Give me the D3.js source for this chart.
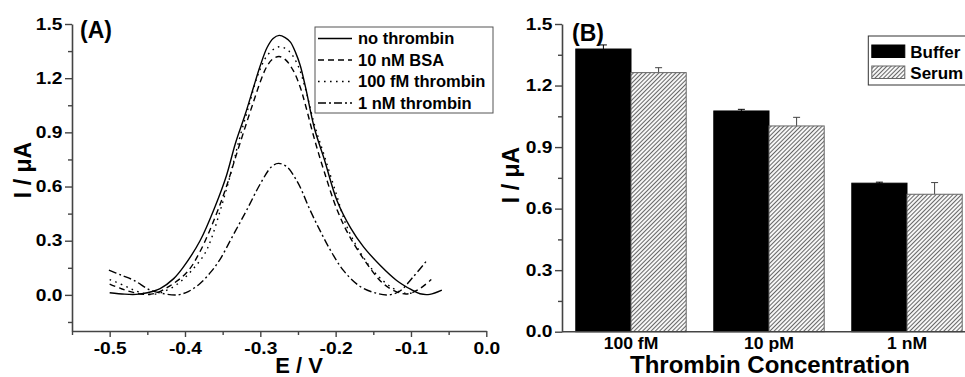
<!DOCTYPE html>
<html>
<head>
<meta charset="utf-8">
<script src="https://cdn.jsdelivr.net/npm/d3@7"></script>
<style>
  body { margin: 0; background: #fff; }
  svg { display: block; font-family: "Liberation Sans", Arial, sans-serif; font-weight: bold; }
</style>
</head>
<body>
<div id="chart"></div>
<script>
// ---- Panel A: voltammograms, [E (V), I (uA)] ----
const noThrombin = [
  [-0.500, 0.012], [-0.480, 0.004], [-0.465, 0.003], [-0.450, 0.012], [-0.433, 0.035],
  [-0.415, 0.09], [-0.402, 0.155], [-0.380, 0.30], [-0.360, 0.49], [-0.345, 0.66],
  [-0.333, 0.84], [-0.320, 1.00], [-0.309, 1.15], [-0.300, 1.27], [-0.291, 1.37],
  [-0.283, 1.42], [-0.275, 1.437], [-0.267, 1.425], [-0.260, 1.40], [-0.253, 1.34],
  [-0.247, 1.27], [-0.240, 1.15], [-0.228, 0.92], [-0.215, 0.75], [-0.198, 0.52],
  [-0.180, 0.37], [-0.163, 0.266], [-0.140, 0.16], [-0.119, 0.08], [-0.100, 0.03],
  [-0.088, 0.006], [-0.075, 0.003], [-0.059, 0.026]
];
const bsa10nM = [
  [-0.500, 0.06], [-0.485, 0.035], [-0.470, 0.015], [-0.455, 0.003], [-0.440, 0.008],
  [-0.420, 0.05], [-0.397, 0.127], [-0.380, 0.24], [-0.360, 0.43], [-0.345, 0.60],
  [-0.333, 0.76], [-0.320, 0.93], [-0.309, 1.07], [-0.300, 1.18], [-0.292, 1.26],
  [-0.284, 1.305], [-0.275, 1.32], [-0.266, 1.30], [-0.256, 1.24], [-0.247, 1.15],
  [-0.240, 1.05], [-0.228, 0.86], [-0.215, 0.68], [-0.198, 0.47], [-0.181, 0.32],
  [-0.154, 0.146], [-0.137, 0.063], [-0.119, 0.017], [-0.105, 0.005], [-0.090, 0.03],
  [-0.073, 0.085]
];
const thrombin100fM = [
  [-0.500, 0.085], [-0.492, 0.072], [-0.477, 0.044], [-0.468, 0.026], [-0.455, 0.008],
  [-0.445, 0.002], [-0.430, 0.015], [-0.410, 0.06], [-0.390, 0.14], [-0.375, 0.22],
  [-0.366, 0.30], [-0.353, 0.47], [-0.340, 0.66], [-0.328, 0.86], [-0.315, 1.05],
  [-0.303, 1.22], [-0.290, 1.33], [-0.275, 1.374], [-0.262, 1.35], [-0.250, 1.27],
  [-0.240, 1.14], [-0.228, 0.94], [-0.215, 0.77], [-0.200, 0.57], [-0.185, 0.377],
  [-0.165, 0.22], [-0.145, 0.11], [-0.125, 0.04], [-0.110, 0.01], [-0.095, 0.012]
];
const thrombin1nM = [
  [-0.501, 0.137], [-0.485, 0.11], [-0.468, 0.081], [-0.446, 0.026], [-0.430, 0.008],
  [-0.410, 0.0], [-0.395, 0.02], [-0.380, 0.063], [-0.365, 0.13], [-0.353, 0.20],
  [-0.340, 0.30], [-0.329, 0.385], [-0.318, 0.47], [-0.300, 0.615], [-0.285, 0.71],
  [-0.276, 0.728], [-0.265, 0.71], [-0.250, 0.62], [-0.234, 0.47], [-0.220, 0.35],
  [-0.207, 0.248], [-0.190, 0.137], [-0.168, 0.048], [-0.145, 0.008], [-0.130, 0.0],
  [-0.115, 0.02], [-0.097, 0.10], [-0.079, 0.19]
];
const seriesNamesA = ["no thrombin", "10 nM BSA", "100 fM thrombin", "1 nM thrombin"];
const xTicksA = [-0.5, -0.4, -0.3, -0.2, -0.1, 0.0];
const xMinorA = [-0.55, -0.45, -0.35, -0.25, -0.15, -0.05];
const yTicksA = [0, 0.3, 0.6, 0.9, 1.2, 1.5];
const yMinorA = [-0.15, 0.15, 0.45, 0.75, 1.05, 1.35];

// ---- Panel B: peak currents ----
const concentrations = ["100 fM", "10 pM", "1 nM"];
const media = ["Buffer", "Serum"];
const bufferMeans = [1.378, 1.076, 0.724];
const bufferErrors = [0.02, 0.008, 0.005];
const serumMeans = [1.263, 1.003, 0.67];
const serumErrors = [0.024, 0.042, 0.057];
const yTicksB = [0, 0.3, 0.6, 0.9, 1.2, 1.5];
const yMinorB = [0.15, 0.45, 0.75, 1.05, 1.35];

const axisColor = "#444";
const stretch = 1.2; // tick labels in the figure are horizontally wide

const svg = d3.select("#chart").append("svg")
  .attr("width", 965).attr("height", 377);

// hatch for serum bars
const defs = svg.append("defs");
const hatch = defs.append("pattern")
  .attr("id", "hatch")
  .attr("patternUnits", "userSpaceOnUse")
  .attr("width", 3).attr("height", 3)
  .attr("patternTransform", "rotate(45)");
hatch.append("rect").attr("width", 3).attr("height", 3).attr("fill", "#fff");
hatch.append("line")
  .attr("x1", 1.5).attr("y1", 0).attr("x2", 1.5).attr("y2", 3)
  .attr("stroke", "#666").attr("stroke-width", 1.1);

function styleAxis(g) {
  g.select(".domain").attr("stroke", axisColor).attr("stroke-width", 1.6);
  g.selectAll(".tick line").attr("stroke", axisColor).attr("stroke-width", 1.4);
  g.selectAll(".tick text")
    .attr("fill", "#000")
    .style("font-size", "16px")
    .style("font-family", "'Liberation Sans', Arial, sans-serif")
    .style("font-weight", "bold");
}

// ================= Panel A =================
const xA = d3.scaleLinear().domain([-0.55, 0]).range([72, 486.3]);
const yA = d3.scaleLinear().domain([-0.2, 1.5]).range([331, 24]);

// minor ticks
svg.append("g").attr("transform", "translate(72,0)")
  .call(d3.axisLeft(yA).tickValues(yMinorA).tickSize(4).tickFormat(""))
  .call(g => g.select(".domain").remove())
  .call(g => g.selectAll("line").attr("stroke", axisColor).attr("stroke-width", 1.4));
svg.append("g").attr("transform", "translate(0,331)")
  .call(d3.axisBottom(xA).tickValues(xMinorA).tickSize(4).tickFormat(""))
  .call(g => g.select(".domain").remove())
  .call(g => g.selectAll("line").attr("stroke", axisColor).attr("stroke-width", 1.4));

const yAxisA = svg.append("g").attr("transform", "translate(72,0)")
  .call(d3.axisLeft(yA).tickValues(yTicksA).tickSize(7).tickSizeOuter(0)
    .tickFormat(d => d.toFixed(1)));
styleAxis(yAxisA);
yAxisA.selectAll(".tick text").attr("x", -9.5 / stretch).attr("transform", `scale(${stretch},1)`);

const xAxisA = svg.append("g").attr("transform", "translate(0,331)")
  .call(d3.axisBottom(xA).tickValues(xTicksA).tickSize(6).tickSizeOuter(0).tickPadding(6)
    .tickFormat(d => d.toFixed(1)));
styleAxis(xAxisA);
xAxisA.selectAll(".tick text")
  .attr("x", 0)
  .attr("text-anchor", "middle")
  .attr("transform", `scale(${stretch},1)`);

const seriesA = [noThrombin, bsa10nM, thrombin100fM, thrombin1nM];
const dashesA = [null, "6,4", "1.6,4.4", "8,3,2,3"];

const line = d3.line()
  .x(d => xA(d[0]))
  .y(d => yA(d[1]))
  .curve(d3.curveCatmullRom.alpha(0.5));

svg.append("g").selectAll("path")
  .data(seriesA)
  .join("path")
  .attr("d", line)
  .attr("fill", "none")
  .attr("stroke", "#000")
  .attr("stroke-width", 1.4)
  .attr("stroke-dasharray", (d, i) => dashesA[i]);

// legend A
const legA = svg.append("g").attr("transform", "translate(315,27)");
legA.append("rect")
  .attr("width", 178).attr("height", 86)
  .attr("fill", "#fff").attr("stroke", "#555").attr("stroke-width", 1);
seriesNamesA.forEach((name, i) => {
  const yy = 11.5 + i * 21.5;
  legA.append("line")
    .attr("x1", 3).attr("x2", 37).attr("y1", yy).attr("y2", yy)
    .attr("stroke", "#000").attr("stroke-width", 1.4)
    .attr("stroke-dasharray", dashesA[i]);
  legA.append("text")
    .attr("x", 43).attr("y", yy + 5.5)
    .style("font-size", "16.5px")
    .text(name);
});

svg.append("text").attr("x", 80).attr("y", 38)
  .style("font-size", "23px").text("(A)");

svg.append("text")
  .attr("transform", "translate(31,170) rotate(-90)")
  .attr("text-anchor", "middle")
  .style("font-size", "23px")
  .text("I / \u03bcA");

svg.append("text")
  .attr("x", 299).attr("y", 373)
  .attr("text-anchor", "middle")
  .style("font-size", "22px")
  .text("E / V");

// ================= Panel B =================
const xB = d3.scaleBand().domain(concentrations).range([562, 976])
  .paddingInner(0.2).paddingOuter(0.1);
const subB = d3.scaleBand().domain(media).range([0, xB.bandwidth()]);
const yB = d3.scaleLinear().domain([0, 1.5]).range([331.7, 24]);

const barData = concentrations.flatMap((c, i) => [
  { c, m: "Buffer", v: bufferMeans[i], e: bufferErrors[i] },
  { c, m: "Serum", v: serumMeans[i], e: serumErrors[i] }
]);

// error bars (upper only)
const errG = svg.append("g");
barData.forEach(d => {
  const cx = xB(d.c) + subB(d.m) + subB.bandwidth() / 2;
  const col = d.m === "Buffer" ? "#000" : "#444";
  errG.append("line")
    .attr("x1", cx).attr("x2", cx)
    .attr("y1", yB(d.v)).attr("y2", yB(d.v + d.e))
    .attr("stroke", col).attr("stroke-width", 1);
  errG.append("line")
    .attr("x1", cx - 3.5).attr("x2", cx + 3.5)
    .attr("y1", yB(d.v + d.e)).attr("y2", yB(d.v + d.e))
    .attr("stroke", col).attr("stroke-width", 1);
});

svg.append("g").selectAll("rect")
  .data(barData)
  .join("rect")
  .attr("x", d => xB(d.c) + subB(d.m))
  .attr("y", d => yB(d.v))
  .attr("width", subB.bandwidth())
  .attr("height", d => yB(0) - yB(d.v))
  .attr("fill", d => d.m === "Buffer" ? "#000" : "url(#hatch)")
  .attr("stroke", d => d.m === "Buffer" ? "#000" : "#666")
  .attr("stroke-width", 1);

svg.append("g").attr("transform", "translate(562,0)")
  .call(d3.axisLeft(yB).tickValues(yMinorB).tickSize(4).tickFormat(""))
  .call(g => g.select(".domain").remove())
  .call(g => g.selectAll("line").attr("stroke", axisColor).attr("stroke-width", 1.4));

const yAxisB = svg.append("g").attr("transform", "translate(562,0)")
  .call(d3.axisLeft(yB).tickValues(yTicksB).tickSize(7).tickSizeOuter(0)
    .tickFormat(d => d.toFixed(1)));
styleAxis(yAxisB);
yAxisB.selectAll(".tick text").attr("x", -9.5 / stretch).attr("transform", `scale(${stretch},1)`);

const xAxisB = svg.append("g").attr("transform", "translate(0,331.7)")
  .call(d3.axisBottom(xB).tickSize(0).tickSizeOuter(0).tickPadding(6));
styleAxis(xAxisB);
xAxisB.select(".domain").attr("d", "M562,0H965");
xAxisB.selectAll(".tick text").attr("transform", "scale(1.1,1)");

// legend B
const legB = svg.append("g").attr("transform", "translate(868.3,36)");
legB.append("rect")
  .attr("width", 120).attr("height", 49)
  .attr("fill", "#fff").attr("stroke", "#333").attr("stroke-width", 1);
media.forEach((m, i) => {
  const yy = 9 + i * 21;
  legB.append("rect")
    .attr("x", 3.5).attr("y", yy).attr("width", 33).attr("height", 12.5)
    .attr("fill", m === "Buffer" ? "#000" : "url(#hatch)")
    .attr("stroke", m === "Buffer" ? "#000" : "#666").attr("stroke-width", 1);
  legB.append("text")
    .attr("x", 42).attr("y", yy + 12.5)
    .style("font-size", "17px")
    .text(m);
});

svg.append("text").attr("x", 572).attr("y", 40.5)
  .style("font-size", "23px").text("(B)");

svg.append("text")
  .attr("transform", "translate(519,175) rotate(-90)")
  .attr("text-anchor", "middle")
  .style("font-size", "23px")
  .text("I / \u03bcA");

svg.append("text")
  .attr("x", 770).attr("y", 373)
  .attr("text-anchor", "middle")
  .style("font-size", "24px")
  .text("Thrombin Concentration");
</script>
</body>
</html>
